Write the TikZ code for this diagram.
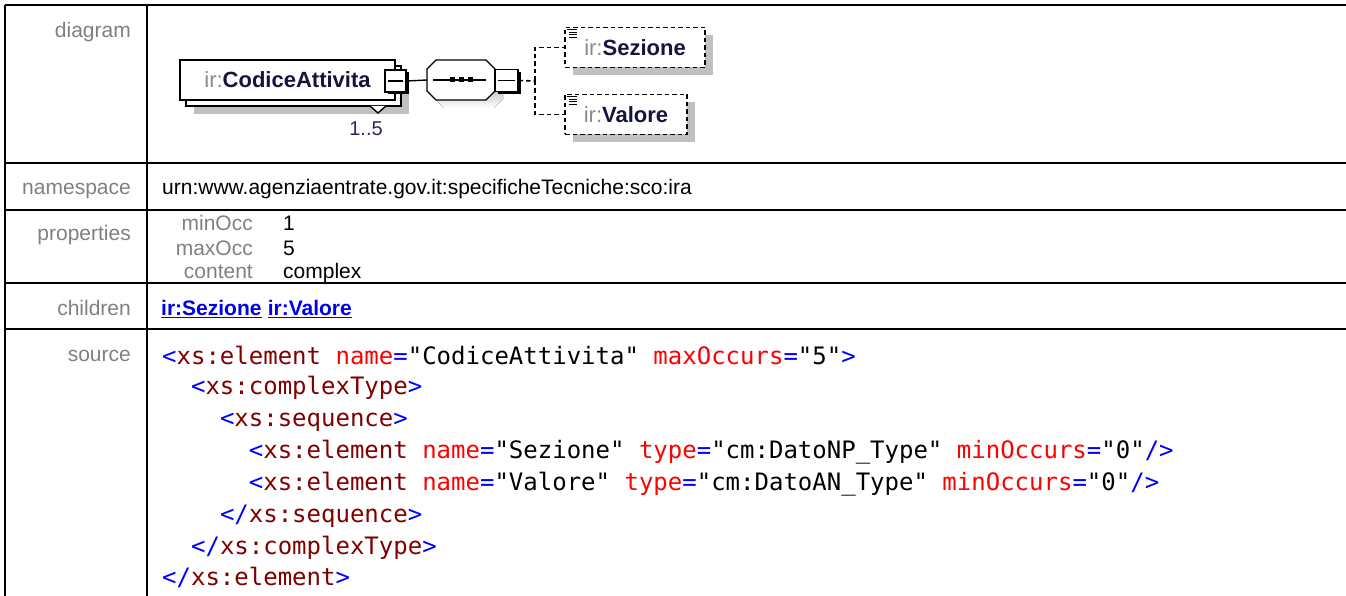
\documentclass[tikz,border=0pt]{standalone}
\usepackage{fontspec}
\setmainfont{Liberation Sans}
\setmonofont{DejaVu Sans Mono}
\usetikzlibrary{positioning,shadows}
\definecolor{lblgray}{HTML}{808080}
\definecolor{irgray}{HTML}{8A8A8A}
\definecolor{irnavy}{HTML}{14143C}
\definecolor{occcol}{HTML}{3A1F5C}
\definecolor{shade}{HTML}{C0C0C0}
\definecolor{tagred}{HTML}{800000}
\definecolor{attred}{HTML}{FF0000}
\definecolor{tagblue}{HTML}{0000FF}
\definecolor{linkblue}{HTML}{0000EE}

\newcommand{\irname}[1]{{\color{irgray}ir:}{\bfseries\color{irnavy}#1}}
\newcommand{\xtag}[1]{\textcolor{tagred}{#1}}
\newcommand{\xatt}[2]{\textcolor{attred}{#1}\textcolor{tagblue}{=}"#2"}
\newcommand{\xo}{\textcolor{tagblue}{<}}
\newcommand{\xs}{\textcolor{tagblue}{</}}
\newcommand{\xc}{\textcolor{tagblue}{>}}
\newcommand{\xe}{\textcolor{tagblue}{/>}}

\tikzset{
  tbl/.style={line width=2pt},
  lbl/.style={anchor=mid east,inner sep=0,text=lblgray,font=\fontsize{21}{25}\selectfont},
  plbl/.style={lbl},
  pval/.style={anchor=mid west,inner sep=0,font=\fontsize{21}{25}\selectfont},
  link/.style={anchor=mid west,inner sep=0,text=linkblue,font=\bfseries\fontsize{21}{25}\selectfont},
  codeline/.style={anchor=mid west,inner sep=0,font=\ttfamily\fontsize{24}{28}\selectfont},
  shade8/.style={drop shadow={shadow xshift=8pt,shadow yshift=-8pt,fill=shade,opacity=1}},
  elembox/.style={draw,fill=white,line width=1.4pt,minimum height=40pt,inner sep=0,
    font=\fontsize{22}{26}\selectfont},
  optbox/.style={elembox,dash pattern=on 4.5pt off 3pt,line width=1.6pt},
  collapse/.style={draw,fill=white,line width=1.3pt,minimum width=21pt,minimum height=22pt,
    drop shadow={shadow xshift=2.5pt,shadow yshift=-2.5pt,fill=black,opacity=1}},
  conn/.style={line width=1.4pt},
  dconn/.style={conn,line width=1.6pt,dash pattern=on 4.5pt off 3pt},
}

\begin{document}
\begin{tikzpicture}[x=1pt,y=-1pt]
  \pgfmathsetmacro{\cw}{14.45};
  \pgfmathsetmacro{\cx}{162};
  \useasboundingbox (0,0) rectangle (1346,596);
  %
  % table frame
  \draw[tbl] (4.5,5) -- (1346,5);
  \draw[tbl] (4.5,5) -- (4.5,600);
  \draw[tbl] (147,5) -- (147,600);
  \foreach \y in {163,210,283,329}
    \draw[tbl] (4.5,\y) -- (1346,\y);
  %
  % row labels
  \node[lbl] (lDiagram) at (131,35) {diagram};
  \node[lbl] (lNamespace) at (131,192) {namespace};
  \node[lbl] (lProperties) at (131,238) {properties};
  \node[lbl] (lChildren) at (131,313) {children};
  \node[lbl] (lSource) at (131,359) {source};
  %
  % namespace
  \node[pval] (ns) at (162,192) {urn:www.agenziaentrate.gov.it:specificheTecniche:sco:ira};
  % properties
  \node[plbl] (pMin) at (253,228) {minOcc};
  \node[plbl] (pMax) at (253,253) {maxOcc};
  \node[plbl] (pContent) at (253,276) {content};
  \node[pval] (vMin) at (283,228) {1};
  \node[pval] (vMax) at (283,253) {5};
  \node[pval] (vContent) at (283,276) {complex};
  % children
  \node[link] (cSez) at (161,313) {\underline{ir:Sezione}};
  \node[link,right=5.8pt of cSez] (cVal) {\underline{ir:Valore}};
  %
  % element CodiceAttivita, 1..5
  \node[elembox,shade8,minimum width=215pt] (elemBack) at (293.5,86) {};
  \node[elembox,minimum width=215pt] (elem) at (287.5,80) {\irname{CodiceAttivita}};
  \draw[conn,fill=white] (370,106) -- (378,113) -- (386,106);
  \node[inner sep=0,text=occcol,font=\fontsize{20}{24}\selectfont] (occ) at (366,129) {1..5};
  \node[collapse] (elemMinus) at (395.5,81) {};
  \draw[conn] ([xshift=4pt]elemMinus.west) -- ([xshift=-4pt]elemMinus.east);
  %
  % sequence
  \coordinate (seqIn) at (427,80);
  \fill[shade,shift={(8,8)}] (427,69) -- (436,60) -- (486,60) -- (495,69)
    -- (495,91) -- (486,100) -- (436,100) -- (427,91) -- cycle;
  \draw[conn,fill=white] (427,69) -- (436,60) -- (486,60) -- (495,69)
    -- (495,91) -- (486,100) -- (436,100) -- (427,91) -- cycle;
  \draw[conn] (433,80) -- (486,80);
  \foreach \x in {452,461,470}
    \fill (\x-2.5,77.5) rectangle ++(5,5);
  \node[collapse,minimum width=23pt] (seqMinus) at (506.5,80.5) {};
  \draw[conn] ([xshift=4pt]seqMinus.west) -- ([xshift=-4pt]seqMinus.east);
  \draw[conn] (elemMinus.east) -- (seqIn);
  %
  % optional children
  \node[optbox,shade8,minimum width=140pt] (sez) at (635,47.5) {\irname{Sezione}};
  \node[optbox,shade8,minimum width=122pt] (val) at (626,114.5) {\irname{Valore}};
  \foreach \n in {sez,val} {
    \draw[line width=0.8pt] ([xshift=3pt,yshift=-3pt]\n.north west) -- ++(10,0);
    \foreach \d in {2.5,5,7.5}
      \draw[line width=0.8pt] ([xshift=5pt,yshift=-3pt]\n.north west) ++(0,\d) -- ++(8,0);
  }
  \coordinate (fork) at (535,81);
  \draw[dconn] (seqMinus.east) -- (fork);
  \draw[dconn] (fork) |- (sez.west);
  \draw[dconn] (fork) |- (val.west);
  %
  % source
  \node[codeline] (src1) at (\cx,362) {\xo\xtag{xs:element} \xatt{name}{CodiceAttivita} \xatt{maxOccurs}{5}\xc};
  \node[codeline] (src2) at ({\cx+2*\cw},392) {\xo\xtag{xs:complexType}\xc};
  \node[codeline] (src3) at ({\cx+4*\cw},424) {\xo\xtag{xs:sequence}\xc};
  \node[codeline] (src4) at ({\cx+6*\cw},456) {\xo\xtag{xs:element} \xatt{name}{Sezione} \xatt{type}{cm:DatoNP\_Type} \xatt{minOccurs}{0}\xe};
  \node[codeline] (src5) at ({\cx+6*\cw},488) {\xo\xtag{xs:element} \xatt{name}{Valore} \xatt{type}{cm:DatoAN\_Type} \xatt{minOccurs}{0}\xe};
  \node[codeline] (src6) at ({\cx+4*\cw},520) {\xs\xtag{xs:sequence}\xc};
  \node[codeline] (src7) at ({\cx+2*\cw},552) {\xs\xtag{xs:complexType}\xc};
  \node[codeline] (src8) at (\cx,583) {\xs\xtag{xs:element}\xc};
\end{tikzpicture}
\end{document}
